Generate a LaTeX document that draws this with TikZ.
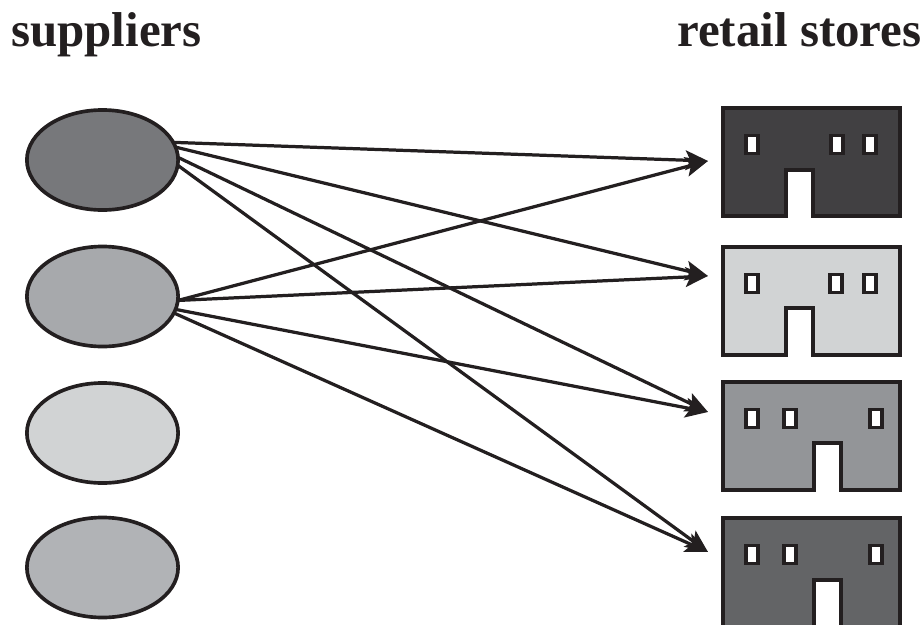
\documentclass[tikz,border=0pt]{standalone}
\usepackage{fontspec}
\setmainfont{Liberation Serif}
\usetikzlibrary{arrows.meta, shapes.geometric}
\definecolor{inkblack}{HTML}{231F20}
\definecolor{supA}{HTML}{77787B}
\definecolor{supB}{HTML}{A7A9AC}
\definecolor{supC}{HTML}{D1D3D4}
\definecolor{supD}{HTML}{B1B3B6}
\definecolor{storeA}{HTML}{414042}
\definecolor{storeB}{HTML}{D1D3D4}
\definecolor{storeC}{HTML}{939598}
\definecolor{storeD}{HTML}{636466}
\tikzset{
	supplier/.style={ellipse, draw=inkblack, line width=2.6pt, minimum width=3.78cm, minimum height=2.5cm, inner sep=0pt, outer sep=0pt},
	title/.style={anchor=base west, inner sep=0pt, font=\fontsize{34.8pt}{40pt}\selectfont\bfseries, text=inkblack},
	store/.style={draw=inkblack, line width=2.6pt, miter limit=10},
	window/.style={draw=inkblack, line width=2.6pt, fill=white},
	ship/.style={draw=inkblack, line width=2.3pt, -{Stealth[length=16pt, width=14pt, inset=3.5pt]}}
}
% fill, top, bottom, door left, door right, door top, window top, window left edges
\newcommand{\storeshape}[8]{
	\draw [store, fill=#1] (723,#2) -- (900,#2) -- (900,#3) -- (#5,#3) -- (#5,#6) -- (#4,#6) -- (#4,#3) -- (723,#3) -- cycle;
	\foreach \wx in {#8} {
		\draw [window] (\wx,#7) rectangle ++(12,18);
	}
}
\begin{document}
\begin{tikzpicture}[x=0.025cm, y=-0.025cm]
	\clip (0,0) rectangle (924,624);

	% headings
	\node [title] (suppliers) at (11,47) {suppliers};
	\node [title] (retail) at (677,47) {retail stores};

	% suppliers
	\node [supplier, fill=supA] (s1) at (102.5,160) {};
	\node [supplier, fill=supB] (s2) at (102.5,296.5) {};
	\node [supplier, fill=supC] (s3) at (102.5,433) {};
	\node [supplier, fill=supD] (s4) at (102.5,567.5) {};

	% retail stores
	\storeshape{storeA}{108}{216}{786}{813}{170}{135.5}{746,831,864}
	\storeshape{storeB}{247}{355}{786}{813}{308}{274.5}{746,830,864}
	\storeshape{storeC}{382}{490}{814}{841}{443}{409.5}{746,784,870}
	\storeshape{storeD}{518}{628}{814}{841}{580}{545.5}{746,784,870}

	% arrow targets
	\coordinate (t1) at (708,161);
	\coordinate (t2) at (708,276);
	\coordinate (t3) at (708,412);
	\coordinate (t4) at (708,552);

	% shipments
	\draw [ship] (s1.14) -- (t1);
	\draw [ship] (s1.10) -- (t2);
	\draw [ship] (s1.2) -- (t3);
	\draw [ship] (s1.-4) -- (t4);
	\draw [ship] (s2.-3) -- (t1);
	\draw [ship] (s2.-3) -- (t2);
	\draw [ship] (s2.-10) -- (t3);
	\draw [ship] (s2.-13) -- (t4);
\end{tikzpicture}
\end{document}
